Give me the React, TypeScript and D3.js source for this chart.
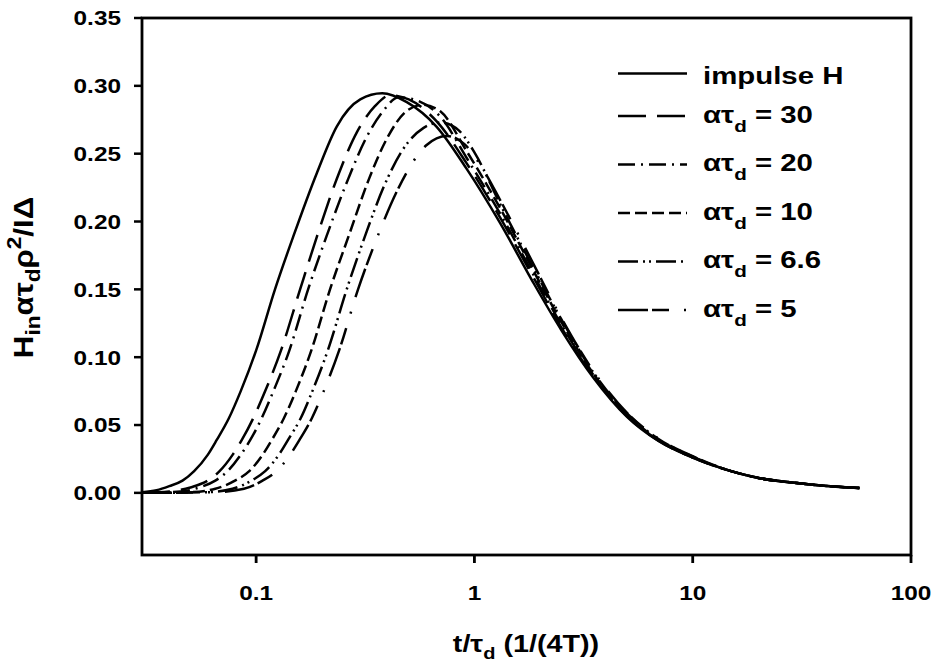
import React from "react";
import * as d3 from "d3";

const xTicks = [0.1, 1, 10, 100];
const yTicks = [0, 0.05, 0.1, 0.15, 0.2, 0.25, 0.3, 0.35];

const impulseX = [0.03,0.035,0.04,0.046,0.052,0.06,0.066,0.075,0.085,0.1,0.122,0.148,0.19,0.234,0.3,0.378,0.49,0.67,0.92,1.31,1.86,2.5,3.5,5,7,10,15,20,30,40,58];
const impulseY = [0.0005,0.002,0.005,0.009,0.016,0.028,0.039,0.055,0.075,0.105,0.150,0.189,0.236,0.270,0.290,0.2945,0.288,0.270,0.239,0.199,0.155,0.12,0.085,0.056,0.038,0.026,0.016,0.011,0.0072,0.0052,0.0035];

const a30X = [0.03,0.04,0.05,0.06,0.068,0.078,0.086,0.097,0.11,0.13,0.159,0.19,0.24,0.29,0.35,0.41,0.5,0.67,0.92,1.31,1.86,2.5,3.5,5,7,10,15,20,30,40,58];
const a30Y = [0,0.001,0.004,0.009,0.016,0.028,0.039,0.055,0.075,0.105,0.150,0.189,0.236,0.266,0.285,0.293,0.290,0.274,0.243,0.203,0.159,0.122,0.086,0.0565,0.0382,0.026,0.016,0.011,0.0072,0.0052,0.0035];

const a20X = [0.03,0.045,0.055,0.065,0.074,0.085,0.094,0.106,0.12,0.142,0.173,0.21,0.265,0.32,0.38,0.45,0.55,0.7,0.92,1.31,1.86,2.5,3.5,5,7,10,15,20,30,40,58];
const a20Y = [0,0.001,0.004,0.009,0.016,0.028,0.039,0.055,0.075,0.105,0.150,0.189,0.232,0.262,0.281,0.2915,0.289,0.277,0.247,0.206,0.161,0.124,0.087,0.057,0.0385,0.026,0.016,0.011,0.0072,0.0052,0.0035];

const a10X = [0.03,0.05,0.065,0.08,0.093,0.107,0.118,0.134,0.152,0.179,0.218,0.265,0.33,0.4,0.49,0.58,0.7,0.92,1.31,1.86,2.5,3.5,5,7,10,15,20,30,40,58];
const a10Y = [0,0.0005,0.003,0.009,0.016,0.028,0.039,0.055,0.075,0.105,0.150,0.189,0.232,0.262,0.2816,0.286,0.281,0.252,0.21,0.164,0.126,0.088,0.0578,0.039,0.0265,0.016,0.011,0.0072,0.0052,0.0035];

const a66X = [0.03,0.06,0.078,0.095,0.11,0.127,0.14,0.16,0.181,0.213,0.26,0.315,0.39,0.47,0.585,0.7,0.85,1.0,1.31,1.86,2.5,3.5,5,7,10,15,20,30,40,58];
const a66Y = [0,0.0005,0.003,0.009,0.016,0.028,0.039,0.055,0.075,0.105,0.150,0.189,0.228,0.253,0.269,0.273,0.267,0.251,0.213,0.166,0.128,0.089,0.0585,0.0395,0.0267,0.016,0.011,0.0072,0.0052,0.0035];

const a5X = [0.03,0.065,0.088,0.107,0.124,0.143,0.158,0.18,0.204,0.24,0.293,0.36,0.45,0.6,0.75,0.9,1.1,1.31,1.86,2.5,3.5,5,7,10,15,20,30,40,58];
const a5Y = [0,0.0005,0.003,0.009,0.016,0.028,0.039,0.055,0.075,0.105,0.150,0.189,0.225,0.256,0.263,0.257,0.238,0.216,0.169,0.129,0.09,0.059,0.0398,0.027,0.016,0.011,0.0072,0.0052,0.0035];

const seriesNames = ["impulse H", "30", "20", "10", "6.6", "5"];
const dashes = ["", "28 11", "17 6 2 6", "12 5", "20 5 2 4 2 5", "30 4 17 15 2 15"];

const FONT = "'Liberation Sans', Arial, Helvetica, sans-serif";
const SX = 1.25;

export default function App() {
  const W = 936, H = 667;
  const left = 142, right = 911, top = 18, bottom = 555;
  const x = d3.scaleLog().domain([0.03, 100]).range([left, right]);
  const y = d3.scaleLinear().domain([-0.0458, 0.35]).range([bottom, top]);

  const data = [
    [impulseX, impulseY],
    [a30X, a30Y],
    [a20X, a20Y],
    [a10X, a10Y],
    [a66X, a66Y],
    [a5X, a5Y],
  ];
  const line = d3
    .line<[number, number]>()
    .x((d) => x(d[0]))
    .y((d) => y(d[1]))
    .curve(d3.curveMonotoneX);

  const fmt = d3.format(".2f");
  const legX0 = 618, legX1 = 687, legTextX = 703;
  const baseFor = (i: number) => (i === 0 ? 84 : 122.5 + (i - 1) * 48.5);
  const lineFor = (i: number) => (i === 0 ? 73.5 : baseFor(i) - 6.5);

  return (
    <svg
      width={W}
      height={H}
      style={{ position: "absolute", left: 0, top: 0, background: "#fff" }}
      fontFamily={FONT}
      fontWeight="bold"
    >
      <rect x={0} y={0} width={W} height={H} fill="#fff" />
      {data.map(([xs, ys], i) => (
        <path
          key={i}
          d={line(xs.map((v, j) => [v, ys[j]] as [number, number])) || ""}
          fill="none"
          stroke="#000"
          strokeWidth={2.5}
          strokeDasharray={dashes[i] || undefined}
        />
      ))}
      <rect x={left} y={top} width={right - left} height={bottom - top} fill="none" stroke="#000" strokeWidth={2.8} />
      {yTicks.map((v) => (
        <g key={v}>
          <line x1={left - 8} x2={left} y1={y(v)} y2={y(v)} stroke="#000" strokeWidth={2.5} />
          <text
            transform={`translate(121, ${y(v) + 7.4}) scale(${SX},1)`}
            textAnchor="end"
            fontSize={19.5}
          >
            {fmt(v)}
          </text>
        </g>
      ))}
      {xTicks.map((v) => (
        <g key={v}>
          <line x1={x(v)} x2={x(v)} y1={bottom} y2={bottom + 8} stroke="#000" strokeWidth={2.8} />
          <text
            transform={`translate(${x(v)}, 600) scale(${SX},1)`}
            textAnchor="middle"
            fontSize={19.5}
          >
            {String(v)}
          </text>
        </g>
      ))}
      <text transform={`translate(526, 651.5) scale(${SX},1)`} textAnchor="middle" fontSize={23}>
        t/τ<tspan fontSize={16} dy={7}>d</tspan>
        <tspan dy={-7}> (1/(4T))</tspan>
      </text>
      <text transform={`translate(33, 277.5) scale(1.2,1.33) rotate(-90)`} textAnchor="middle" fontSize={23.5}>
        H<tspan fontSize={17} dy={6}>in</tspan>
        <tspan dy={-6}>ατ</tspan>
        <tspan fontSize={17} dy={6}>d</tspan>
        <tspan dy={-6}>ρ</tspan>
        <tspan fontSize={17} dy={-10}>2</tspan>
        <tspan dy={10}>/IΔ</tspan>
      </text>
      {seriesNames.map((name, i) => (
        <g key={name}>
          <line
            x1={legX0}
            x2={legX1}
            y1={lineFor(i)}
            y2={lineFor(i)}
            stroke="#000"
            strokeWidth={2.5}
            strokeDasharray={dashes[i] || undefined}
          />
          <text transform={`translate(${legTextX}, ${baseFor(i)}) scale(${SX},1)`} fontSize={23.5}>
            {i === 0 ? (
              name
            ) : (
              <>
                ατ<tspan fontSize={16.5} dy={9}>d</tspan>
                <tspan dy={-9}> = {name}</tspan>
              </>
            )}
          </text>
        </g>
      ))}
    </svg>
  );
}
